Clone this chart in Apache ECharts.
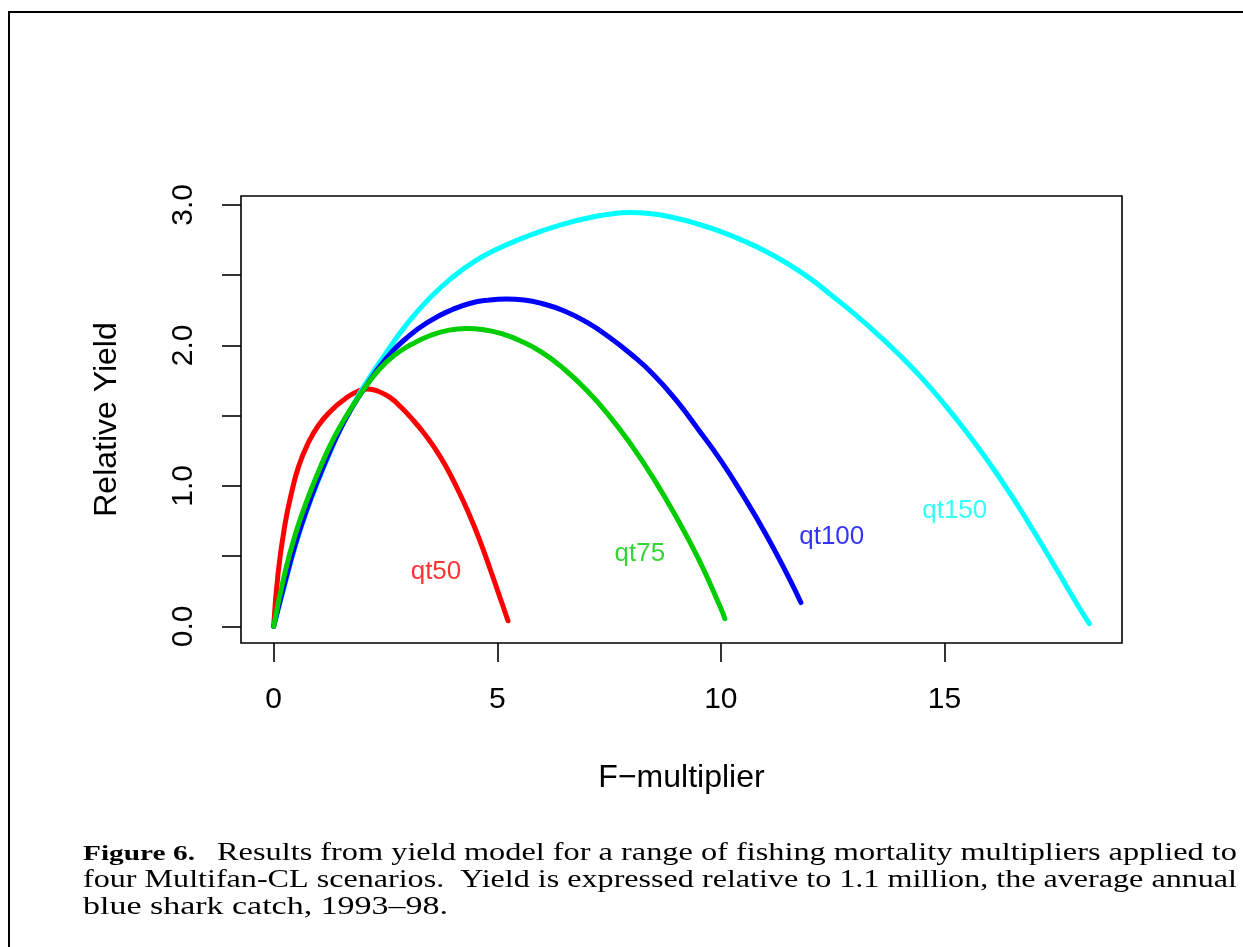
<!DOCTYPE html>
<html><head><meta charset="utf-8">
<script src="https://cdn.jsdelivr.net/npm/echarts@6/dist/echarts.min.js"></script>
<style>html,body{margin:0;padding:0;background:#fff}#c{width:1243px;height:947px}</style>
</head><body><div id="c"></div>
<script>
// ---- data ----
const seriesNames = ['qt50', 'qt75', 'qt100', 'qt150'];
const seriesColors = ['#FF0000', '#00CD00', '#0000FF', '#00FFFF'];

const qt50X = [0, 0.1, 0.25, 0.4, 0.55, 0.75, 1.0, 1.3, 1.6, 1.85, 2.1, 2.35, 2.6, 2.85, 3.1, 3.35, 3.6, 3.85, 4.1, 4.35, 4.6, 4.85, 5.1, 5.24];
const qt50Y = [0, 0.38, 0.72, 0.95, 1.13, 1.29, 1.43, 1.54, 1.62, 1.668, 1.69, 1.672, 1.63, 1.56, 1.475, 1.38, 1.27, 1.14, 0.985, 0.815, 0.62, 0.40, 0.17, 0.04];

const qt75X = [0, 0.25, 0.5, 0.75, 1.0, 1.25, 1.5, 1.75, 2.0, 2.35, 2.7, 3.1, 3.5, 3.9, 4.3, 4.7, 5.1, 5.5, 6.0, 6.5, 7.0, 7.5, 8.0, 8.5, 9.0, 9.5, 10.0, 10.09];
const qt75Y = [0, 0.38, 0.67, 0.90, 1.10, 1.28, 1.43, 1.56, 1.68, 1.825, 1.93, 2.01, 2.07, 2.107, 2.12, 2.111, 2.083, 2.035, 1.95, 1.83, 1.68, 1.50, 1.29, 1.05, 0.78, 0.48, 0.13, 0.055];

const qt100X = [0, 0.25, 0.5, 0.75, 1.0, 1.25, 1.5, 1.75, 2.0, 2.5, 3.0, 3.5, 4.0, 4.4, 4.8, 5.2, 5.6, 6.0, 6.5, 7.0, 7.5, 8.0, 8.5, 9.0, 9.5, 10.0, 10.5, 11.0, 11.5, 11.79];
const qt100Y = [0, 0.31, 0.60, 0.84, 1.05, 1.24, 1.41, 1.555, 1.68, 1.90, 2.06, 2.175, 2.255, 2.30, 2.322, 2.33, 2.323, 2.298, 2.245, 2.165, 2.06, 1.935, 1.79, 1.61, 1.40, 1.18, 0.93, 0.66, 0.36, 0.17];

const qt150X = [0, 0.25, 0.5, 0.75, 1.0, 1.25, 1.5, 1.75, 2.0, 2.5, 3.0, 3.5, 4.0, 4.5, 5.0, 5.5, 6.0, 6.5, 7.0, 7.5, 7.95, 8.4, 9.0, 9.5, 10.0, 10.5, 11.0, 11.5, 12.0, 12.5, 13.0, 13.5, 14.0, 14.5, 15.0, 15.5, 16.0, 16.5, 17.0, 17.5, 18.0, 18.24];
const qt150Y = [0, 0.30, 0.59, 0.83, 1.04, 1.23, 1.41, 1.56, 1.70, 1.94, 2.16, 2.34, 2.485, 2.60, 2.685, 2.755, 2.815, 2.865, 2.905, 2.933, 2.945, 2.938, 2.905, 2.862, 2.81, 2.745, 2.67, 2.58, 2.475, 2.35, 2.22, 2.08, 1.93, 1.765, 1.58, 1.38, 1.165, 0.93, 0.675, 0.41, 0.14, 0.02];

const labelX = [3.63, 8.19, 12.48, 15.23];
const labelY = [0.387, 0.515, 0.634, 0.824];

const xTicks = [0, 5, 10, 15];
const yTicks = [0, 0.5, 1, 1.5, 2, 2.5, 3];
const yTickLabels = [0, 1, 2, 3];

const xTitle = 'F\u2212multiplier';
const yTitle = 'Relative Yield';
const captionFig = 'Figure 6.';
const captionLine1 = 'Results from yield model for a range of fishing mortality multipliers applied to';
const captionLine2 = 'four Multifan-CL scenarios.  Yield is expressed relative to 1.1 million, the average annual';
const captionLine3 = 'blue shark catch, 1993\u201398.';

// ---- build ----
const curveX = [qt50X, qt75X, qt100X, qt150X];
const curveY = [qt50Y, qt75Y, qt100Y, qt150Y];
const drawOrder = [0, 3, 2, 1];

const SANS = '"Liberation Sans", Arial, sans-serif';
const SERIF = '"Liberation Serif", "Times New Roman", serif';

const lineSeries = drawOrder.map(i => ({
  type: 'line',
  name: seriesNames[i],
  data: curveX[i].map((x, k) => [x, curveY[i][k]]),
  showSymbol: false,
  smooth: 0.5,
  lineStyle: { color: seriesColors[i], width: 5, cap: 'round', join: 'round' },
  z: 3
}));

const labelSeries = {
  type: 'scatter',
  symbolSize: 0,
  data: labelX.map((x, i) => ({
    value: [x, labelY[i]],
    label: { color: seriesColors[i] }
  })),
  label: {
    show: true,
    position: 'inside',
    fontSize: 26,
    fontFamily: SANS,
    formatter: p => seriesNames[p.dataIndex]
  },
  z: 4
};

const mctx = document.createElement('canvas').getContext('2d');
function captionText(text, left, baseline, targetWidth, size, weight) {
  mctx.font = (weight || 'normal') + ' ' + size + 'px ' + SERIF;
  const w = mctx.measureText(text).width;
  return {
    type: 'text',
    x: left,
    y: baseline - size * 0.34,
    scaleX: targetWidth / w,
    style: {
      text: text,
      fontSize: size,
      fontFamily: SERIF,
      fontWeight: weight || 'normal',
      fill: '#000',
      align: 'left',
      verticalAlign: 'middle'
    }
  };
}

const chart = echarts.init(document.getElementById('c'), null, { renderer: 'canvas' });
chart.setOption({
  animation: false,
  backgroundColor: '#fff',
  grid: {
    left: 241, top: 196, width: 881, height: 447,
    show: true, borderColor: '#000', borderWidth: 1.6, backgroundColor: 'transparent'
  },
  xAxis: {
    type: 'value', min: -0.73, max: 18.97,
    axisLine: { show: false, onZero: false },
    splitLine: { show: false },
    axisTick: { show: true, customValues: xTicks, length: 19, lineStyle: { color: '#000', width: 1.6 } },
    axisLabel: {
      customValues: xTicks, color: '#000', fontSize: 30, fontFamily: SANS, margin: 42,
      formatter: v => String(v)
    },
    name: xTitle, nameLocation: 'middle', nameGap: 119,
    nameTextStyle: { fontSize: 32, fontFamily: SANS, color: '#000' }
  },
  yAxis: {
    type: 'value', min: -0.118, max: 3.063,
    axisLine: { show: false, onZero: false },
    splitLine: { show: false },
    axisTick: { show: true, customValues: yTicks, length: 19, lineStyle: { color: '#000', width: 1.6 } },
    axisLabel: {
      customValues: yTickLabels, color: '#000', fontSize: 30, fontFamily: SANS, margin: 42, rotate: 90,
      formatter: v => Number(v).toFixed(1)
    },
    name: yTitle, nameLocation: 'middle', nameGap: 118, nameRotate: 90,
    nameTextStyle: { fontSize: 32, fontFamily: SANS, color: '#000' }
  },
  series: lineSeries.concat([labelSeries]),
  graphic: [
    { type: 'polyline', shape: { points: [[9, 947], [9, 12], [1243, 12]] }, style: { stroke: '#000', lineWidth: 2, fill: null } },
    captionText(captionFig, 83, 861.7, 112, 22, 'bold'),
    captionText(captionLine1, 217, 861.7, 1020, 26),
    captionText(captionLine2, 83, 889.3, 1154, 26),
    captionText(captionLine3, 83, 916, 365, 26)
  ]
});
</script></body></html>
